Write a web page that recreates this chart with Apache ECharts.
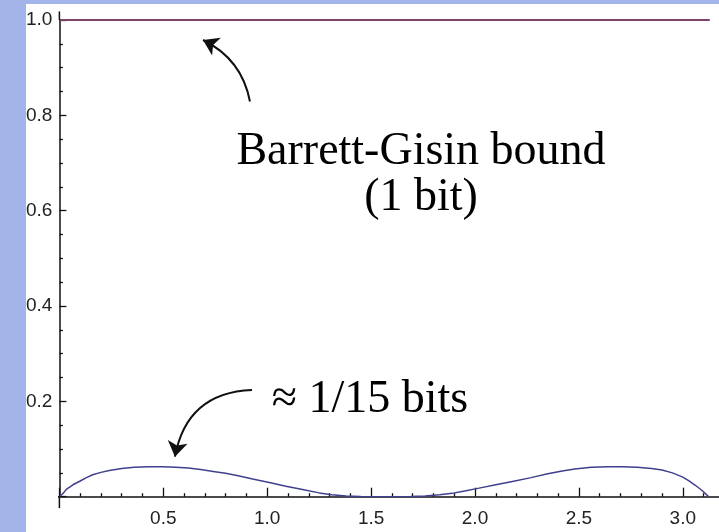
<!DOCTYPE html>
<html><head><meta charset="utf-8">
<script src="https://cdn.jsdelivr.net/npm/echarts@6/dist/echarts.min.js"></script>
<style>
html,body{margin:0;padding:0;width:719px;height:532px;background:#a3b5e8;overflow:hidden;}
#c{position:absolute;left:26px;top:4px;width:693px;height:528px;background:#fff;}
</style></head><body><div id="c"></div>
<script>
// ---- data ----
const curveX = [0, 0.02, 0.035, 0.065, 0.10, 0.13, 0.16, 0.20, 0.24, 0.30, 0.36, 0.43, 0.50, 0.56, 0.62, 0.68, 0.74, 0.80, 0.86, 0.93, 1.01, 1.09, 1.17, 1.25, 1.31, 1.38, 1.45, 1.57, 1.69, 1.76, 1.83, 1.89, 1.95, 2.02, 2.10, 2.18, 2.27, 2.35, 2.42, 2.48, 2.56, 2.64, 2.71, 2.78, 2.85, 2.90, 2.95, 3.00, 3.03, 3.06, 3.09, 3.11, 3.125];
const curveY = [0, 0.008, 0.016, 0.025, 0.033, 0.040, 0.046, 0.051, 0.055, 0.059, 0.062, 0.063, 0.063, 0.062, 0.060, 0.057, 0.053, 0.049, 0.044, 0.037, 0.030, 0.022, 0.015, 0.008, 0.004, 0.0015, 0.0004, 0, 0.0004, 0.0015, 0.004, 0.007, 0.012, 0.018, 0.025, 0.032, 0.040, 0.048, 0.054, 0.058, 0.062, 0.063, 0.063, 0.062, 0.059, 0.056, 0.050, 0.041, 0.033, 0.024, 0.014, 0.006, 0];
const boundX = [0, 3.13];
const boundY = [1, 1];
const xTickLabels = ['0.5', '1.0', '1.5', '2.0', '2.5', '3.0'];
const yTickLabels = ['0.2', '0.4', '0.6', '0.8', '1.0'];
const arrowBound = [[0.917, 0.829], [0.691, 0.958]];
const arrowSmall = [[0.927, 0.224], [0.556, 0.084]];
const textBound1 = 'Barrett-Gisin bound';
const textBound2 = '(1 bit)';
const textSmall = '\u2248 1/15 bits';

// ---- chart ----
const chart = echarts.init(document.getElementById('c'), null, {renderer: 'canvas'});
const labelFor = (arr) => (v) => {
  const s = arr.find(l => Math.abs(parseFloat(l) - v) < 1e-9);
  return s === undefined ? '' : s;
};
const axisColor = '#111';
const tickFont = {fontFamily: 'Liberation Sans, Arial, sans-serif', fontSize: 19, color: '#222'};
const serif = 'Liberation Serif, Times New Roman, serif';

chart.setOption({
  animation: false,
  backgroundColor: '#ffffff',
  grid: {left: 33.4, top: 16, height: 476.7, width: 727.3, containLabel: false, outerBoundsMode: 'none'},
  xAxis: {
    type: 'value', min: 0, max: 3.5, interval: 0.5,
    axisLine: {onZero: false, lineStyle: {color: axisColor, width: 1.5}},
    axisTick: {inside: true, length: 9, lineStyle: {color: axisColor, width: 1.3}},
    minorTick: {show: true, splitNumber: 5, length: 3.5, lineStyle: {color: axisColor, width: 1.3}},
    splitLine: {show: false},
    axisLabel: Object.assign({margin: 13, showMinLabel: false, formatter: labelFor(xTickLabels)}, tickFont)
  },
  yAxis: {
    type: 'value', min: 0, max: 1.0, interval: 0.2,
    axisLine: {onZero: false, lineStyle: {color: axisColor, width: 1.5}},
    axisTick: {inside: true, length: 7, lineStyle: {color: axisColor, width: 1.3}},
    minorTick: {show: true, splitNumber: 4, length: 3.5, lineStyle: {color: axisColor, width: 1.3}},
    splitLine: {show: false},
    axisLabel: Object.assign({margin: 7, showMinLabel: false, formatter: labelFor(yTickLabels)}, tickFont)
  },
  series: [
    {
      type: 'line', silent: true, showSymbol: false, clip: false,
      data: boundX.map((x, i) => [x, boundY[i]]),
      lineStyle: {color: '#7d4668', width: 2}
    },
    {
      type: 'line', silent: true, showSymbol: false,
      data: curveX.map((x, i) => [x, curveY[i]]),
      lineStyle: {color: '#40408f', width: 1.5}
    },
    // axis line overhangs (Mathematica-style axes crossing)
    {type: 'line', silent: true, showSymbol: false, clip: false, data: [[-0.055, 0], [0, 0]], lineStyle: {color: axisColor, width: 1.5}},
    {type: 'line', silent: true, showSymbol: false, clip: false, data: [[0, -0.024], [0, 0]], lineStyle: {color: axisColor, width: 1.5}},
    {type: 'line', silent: true, showSymbol: false, clip: false, data: [[0, 1], [0, 1.018]], lineStyle: {color: axisColor, width: 1.5}},
    {
      type: 'lines', coordinateSystem: 'cartesian2d', silent: true,
      symbol: ['none', 'arrow'], symbolSize: 15,
      lineStyle: {color: '#111', width: 2, opacity: 1},
      data: [
        {coords: arrowBound, lineStyle: {curveness: -0.25}},
        {coords: arrowSmall, lineStyle: {curveness: -0.4}}
      ]
    }
  ],
  graphic: [
    {type: 'text', x: 395, y: 148, style: {text: textBound1, font: '46px ' + serif, fill: '#000', textAlign: 'center', textVerticalAlign: 'middle'}},
    {type: 'text', x: 395, y: 194, style: {text: textBound2, font: '46px ' + serif, fill: '#000', textAlign: 'center', textVerticalAlign: 'middle'}},
    {type: 'text', x: 245.7, y: 395.5, style: {text: textSmall, font: '46px ' + serif, fill: '#000', textAlign: 'left', textVerticalAlign: 'middle'}}
  ]
});
</script>
</body></html>
